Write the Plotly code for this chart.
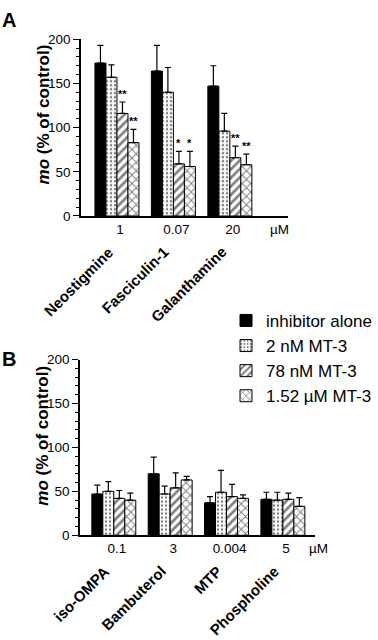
import plotly.graph_objects as go

# ---------------- data ----------------
series_names = ["inhibitor alone", "2 nM MT-3", "78 nM MT-3", "1.52 µM MT-3"]

A_categories = ["Neostigmine", "Fasciculin-1", "Galanthamine"]
A_conc = ["1", "0.07", "20"]
A_alone = [173, 164, 147]
A_alone_err = [20, 29, 23]
A_2nM = [157, 140, 96]
A_2nM_err = [14, 28, 20]
A_78nM = [116, 59, 66]
A_78nM_err = [13, 14, 13]
A_152uM = [83, 56, 58]
A_152uM_err = [15, 17, 12]
A_stars_78nM = ["**", "*", "**"]
A_stars_152uM = ["**", "*", "**"]

B_categories = ["iso-OMPA", "Bambuterol", "MTP", "Phospholine"]
B_conc = ["0.1", "3", "0.004", "5"]
B_alone = [47, 70, 37, 41]
B_alone_err = [10, 19, 7, 8]
B_2nM = [50, 47, 49, 40]
B_2nM_err = [11, 9, 25, 9]
B_78nM = [42, 54, 44, 41]
B_78nM_err = [9, 17, 14, 7]
B_152uM = [40, 63, 42, 33]
B_152uM_err = [8, 4, 4, 10]

y_ticks = [0, 50, 100, 150, 200]

# ---------------- style ----------------
FONT = "Liberation Sans, Arial, sans-serif"
W, H = 378, 640
BARGAP = 0.22
patterns = [
    dict(shape="", fillmode="overlay"),
    dict(shape=".", size=4, solidity=0.3, fgcolor="black", bgcolor="white", fillmode="overlay"),
    dict(shape="/", size=6, solidity=0.45, fgcolor="black", bgcolor="white", fillmode="overlay"),
    dict(shape="x", size=6, solidity=0.3, fgcolor="black", bgcolor="white", fillmode="overlay"),
]
colors = ["black", "white", "white", "white"]

fig = go.Figure()


def add_panel(cats, vals, errs, xa, ya, showlegend):
    xs = list(range(len(cats)))
    for j, (v, e) in enumerate(zip(vals, errs)):
        fig.add_trace(go.Bar(
            x=xs, y=v, name=series_names[j],
            xaxis=xa, yaxis=ya,
            marker=dict(color=colors[j], line=dict(color="black", width=1),
                        pattern=patterns[j]),
            error_y=dict(type="data", array=e, arrayminus=[0] * len(e),
                         symmetric=False, color="black", thickness=1.2, width=3),
            showlegend=showlegend, legendgroup=f"g{j}",
        ))


add_panel(A_categories, [A_alone, A_2nM, A_78nM, A_152uM],
          [A_alone_err, A_2nM_err, A_78nM_err, A_152uM_err], "x", "y", True)
add_panel(B_categories, [B_alone, B_2nM, B_78nM, B_152uM],
          [B_alone_err, B_2nM_err, B_78nM_err, B_152uM_err], "x2", "y2", False)


def px(xp):
    return xp / W


def py(yp):
    return 1 - yp / H


A_box = (81, 288, 33, 214)   # left, right, top, bottom (px)
B_box = (80, 315, 361, 541)

axis_common = dict(showline=True, linecolor="black", linewidth=1.5, showgrid=False,
                   zeroline=False, tickfont=dict(family=FONT, size=13.5, color="black"))

yaxis_common = dict(axis_common, range=[0, 200], tickvals=y_ticks, ticks="outside",
                    ticklen=6, tickwidth=1.2, tickcolor="black",
                    minor=dict(ticks="outside", ticklen=3, dtick=10, tickcolor="black", tickwidth=1))

fig.update_layout(
    width=W, height=H,
    margin=dict(l=0, r=0, t=0, b=0),
    paper_bgcolor="white", plot_bgcolor="white",
    barmode="group", bargap=BARGAP, bargroupgap=0,
    font=dict(family=FONT, color="black"),
    xaxis=dict(axis_common, domain=[px(A_box[0]), px(A_box[1])], anchor="y",
               range=[-0.637, 3.03], tickvals=list(range(len(A_categories))),
               ticktext=A_conc, ticks="", ticklabelshift=3),
    yaxis=dict(yaxis_common, domain=[py(A_box[3]), py(A_box[2])], anchor="x"),
    xaxis2=dict(axis_common, domain=[px(B_box[0]), px(B_box[1])], anchor="y2",
                range=[-0.6, 3.57], tickvals=list(range(len(B_categories))),
                ticktext=B_conc, ticks="", ticklabelshift=3),
    yaxis2=dict(yaxis_common, domain=[py(B_box[3]), py(B_box[2])], anchor="x2"),
    legend=dict(x=px(226), y=py(303), xanchor="left", yanchor="top",
                font=dict(family=FONT, size=17, color="black"),
                tracegroupgap=0, bgcolor="rgba(0,0,0,0)"),
)

ann = []
# panel letters
for letter, yc in (("A", 13), ("B", 360)):
    ann.append(dict(text=f"<b>{letter}</b>", x=px(9), y=py(yc), xref="paper", yref="paper",
                    xanchor="center", yanchor="middle", showarrow=False,
                    font=dict(size=20, family=FONT)))
# y titles
for yc in (110, 439):
    ann.append(dict(text="<b><i>mo</i> (% of control)</b>", x=px(43), y=py(yc),
                    xref="paper", yref="paper", xanchor="center", yanchor="middle",
                    textangle=-90, showarrow=False, font=dict(size=17, family=FONT)))
# µM units
for xc, yc in ((279, 228), (318, 555)):
    ann.append(dict(text="µM", x=px(xc), y=py(yc), xref="paper", yref="paper",
                    xanchor="center", yanchor="middle", showarrow=False,
                    font=dict(size=13.5, family=FONT)))
# rotated compound names
for cats, xa, ybot in ((A_categories, "x", A_box[3]), (B_categories, "x2", B_box[3])):
    for i, c in enumerate(cats):
        ann.append(dict(text=f"<b>{c}</b>", x=i, y=py(ybot + 25), xref=xa, yref="paper",
                        xanchor="right", yanchor="top", textangle=-45, showarrow=False,
                        xshift=2, font=dict(size=15, family=FONT)))
# significance stars
bw = (1 - BARGAP) / 4
for j, (stars, vals, errs) in enumerate(((A_stars_78nM, A_78nM, A_78nM_err),
                                          (A_stars_152uM, A_152uM, A_152uM_err))):
    k = j + 2
    for i, s in enumerate(stars):
        ann.append(dict(text=f"<b>{s}</b>", x=i + (k - 1.5) * bw, y=vals[i] + errs[i],
                        xref="x", yref="y", xanchor="center", yanchor="bottom",
                        showarrow=False, font=dict(size=11, family=FONT)))
fig.update_layout(annotations=ann)

fig.write_html("out.html", config={"displayModeBar": False},
               post_script="document.body.style.margin='0';")
